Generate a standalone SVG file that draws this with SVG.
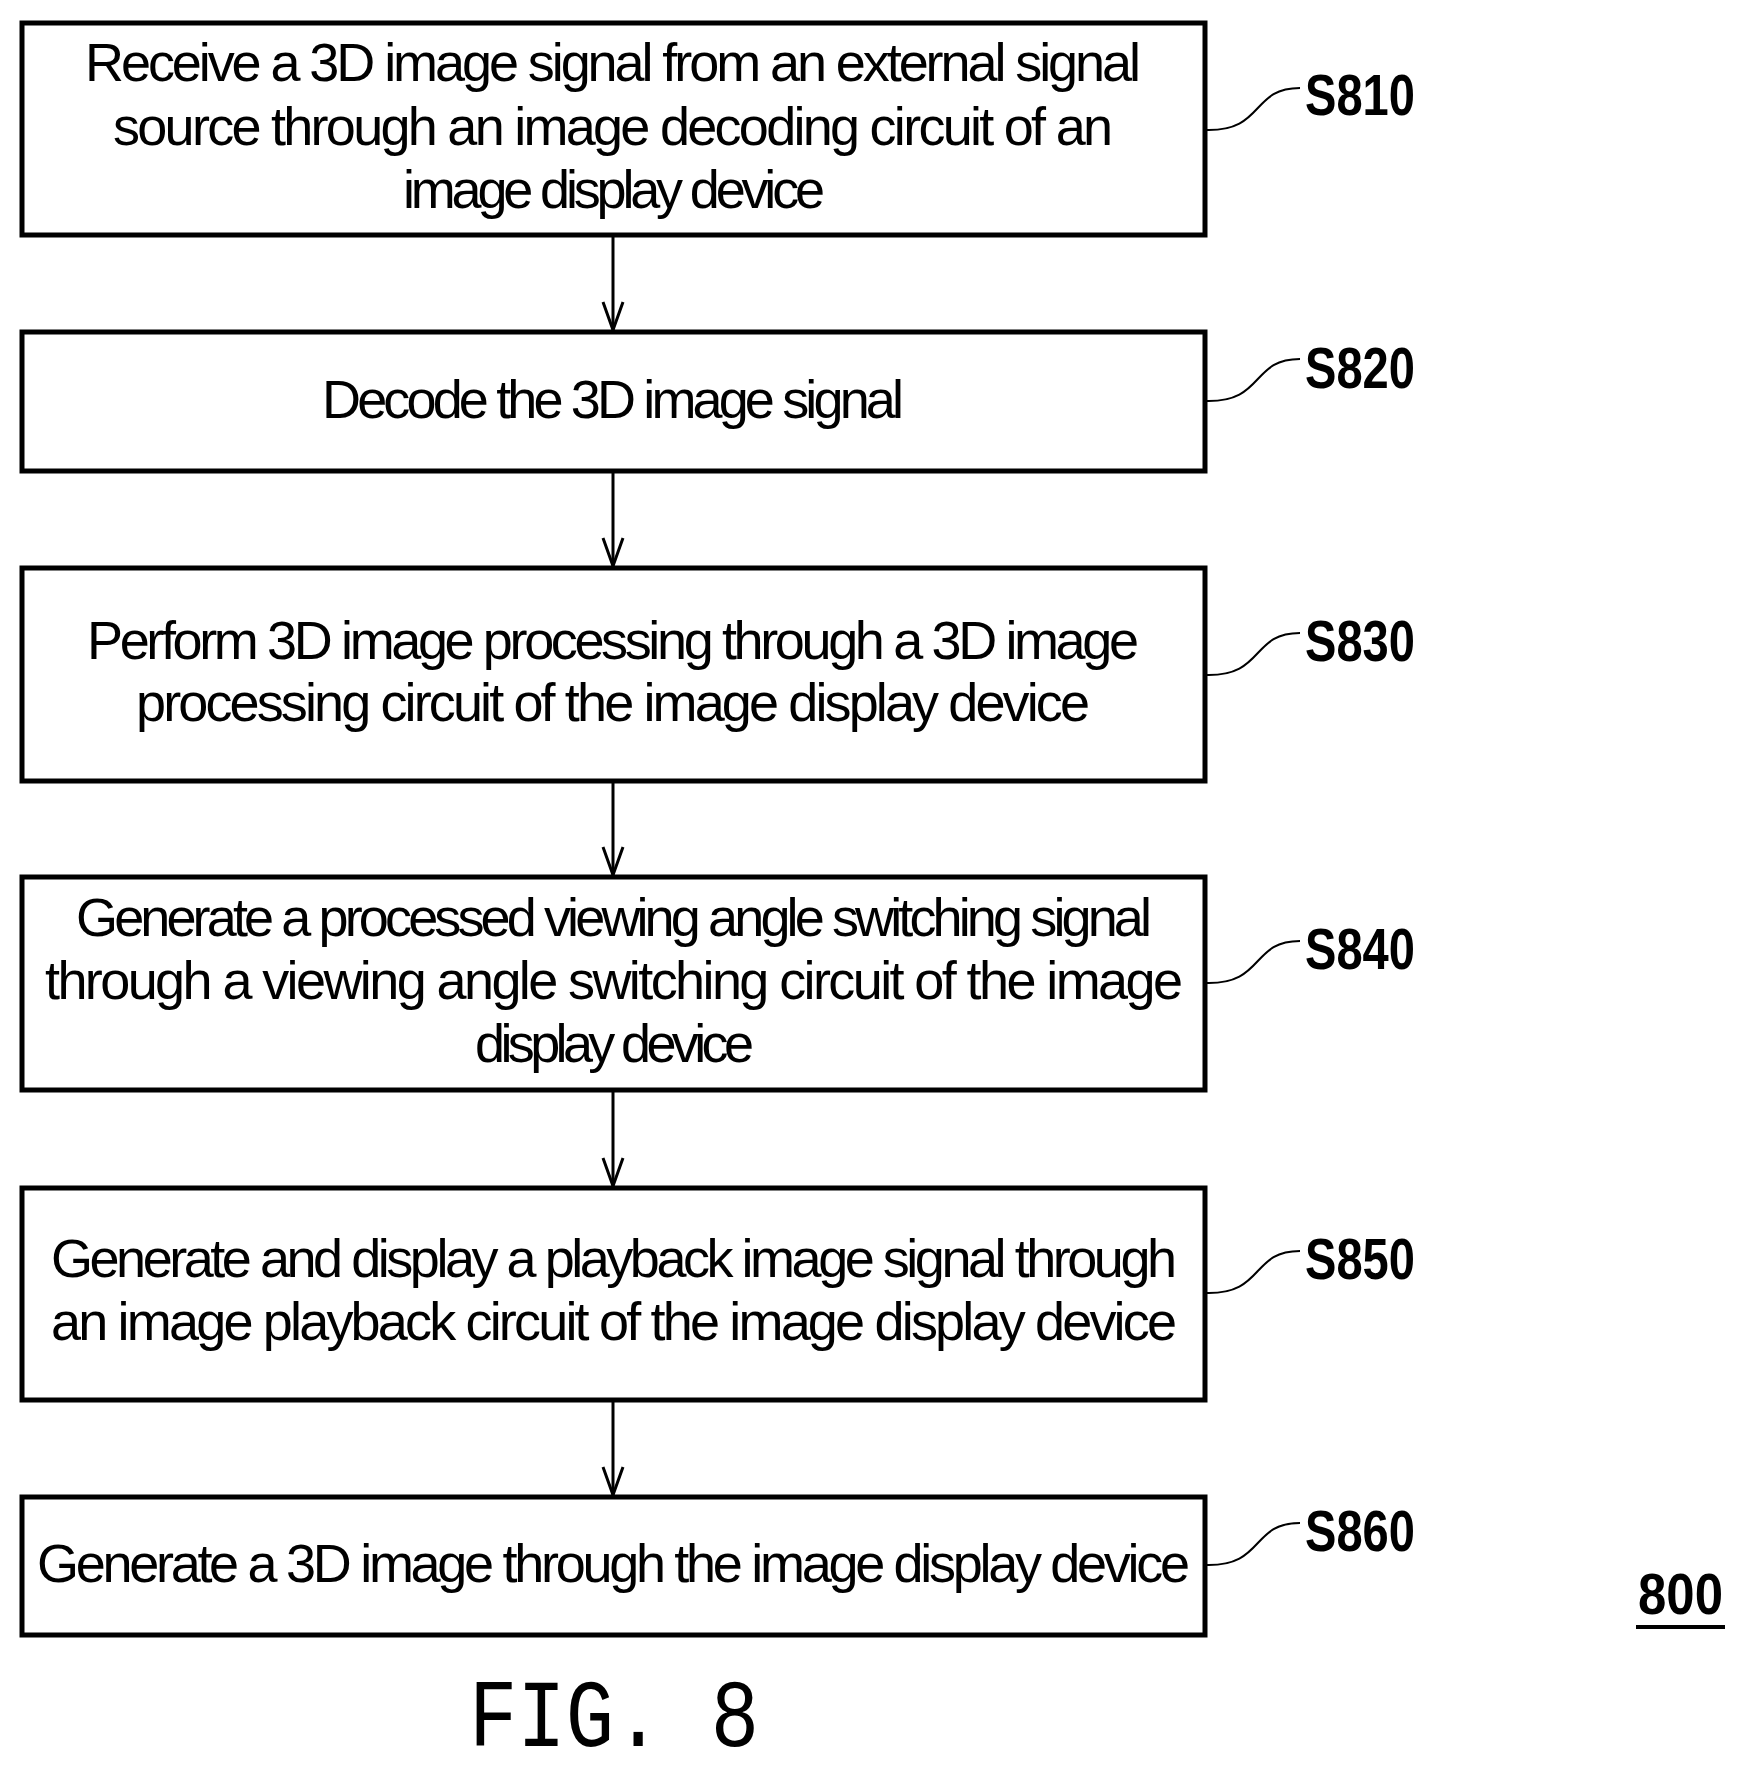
<svg xmlns="http://www.w3.org/2000/svg" width="1747" height="1773" viewBox="0 0 1747 1773">
<style>
.box{fill:#fff;stroke:#000;stroke-width:5}
.t{font-family:"Liberation Sans",Arial,sans-serif;font-size:54px;fill:#000}
.lab{font-family:"Liberation Sans",Arial,sans-serif;font-size:58px;font-weight:bold;fill:#000}
.c{fill:none;stroke:#000;stroke-width:3}
.ld{fill:none;stroke:#000;stroke-width:2}
</style>
<defs><marker id="a" markerWidth="30" markerHeight="24" refX="29" refY="12" orient="auto" markerUnits="userSpaceOnUse" viewBox="0 0 30 24"><path d="M1,2 L29,12 L1,22" fill="none" stroke="#000" stroke-width="3"/></marker></defs>
<g id="connectors">
<line class="c" x1="613" y1="235" x2="613" y2="330" marker-end="url(#a)"/>
<line class="c" x1="613" y1="471" x2="613" y2="566" marker-end="url(#a)"/>
<line class="c" x1="613" y1="781" x2="613" y2="875" marker-end="url(#a)"/>
<line class="c" x1="613" y1="1090" x2="613" y2="1186" marker-end="url(#a)"/>
<line class="c" x1="613" y1="1400" x2="613" y2="1495" marker-end="url(#a)"/>
<path class="ld" d="M1205,130 C1265,132 1250,88 1300,88"/>
<path class="ld" d="M1205,401 C1265,403 1250,359 1300,359"/>
<path class="ld" d="M1205,675 C1265,677 1250,633 1300,633"/>
<path class="ld" d="M1205,983 C1265,985 1250,941 1300,941"/>
<path class="ld" d="M1205,1293 C1265,1295 1250,1251 1300,1251"/>
<path class="ld" d="M1205,1565 C1265,1567 1250,1523 1300,1523"/>
</g>
<g id="S810"><rect class="box" x="22" y="23" width="1183" height="212"/>
<text class="t" x="85" y="81" textLength="1056" lengthAdjust="spacing">Receive a 3D image signal from an external signal</text>
<text class="t" x="113" y="145" textLength="1000" lengthAdjust="spacing">source through an image decoding circuit of an</text>
<text class="t" x="403" y="208" textLength="422" lengthAdjust="spacing">image display device</text>
<text class="lab" x="1305" y="115" textLength="110" lengthAdjust="spacingAndGlyphs">S810</text></g>
<g id="S820"><rect class="box" x="22" y="332" width="1183" height="139"/>
<text class="t" x="322" y="418" textLength="582" lengthAdjust="spacing">Decode the 3D image signal</text>
<text class="lab" x="1305" y="388" textLength="110" lengthAdjust="spacingAndGlyphs">S820</text></g>
<g id="S830"><rect class="box" x="22" y="568" width="1183" height="213"/>
<text class="t" x="87" y="659" textLength="1052" lengthAdjust="spacing">Perform 3D image processing through a 3D image</text>
<text class="t" x="136" y="721" textLength="954" lengthAdjust="spacing">processing circuit of the image display device</text>
<text class="lab" x="1305" y="661" textLength="110" lengthAdjust="spacingAndGlyphs">S830</text></g>
<g id="S840"><rect class="box" x="22" y="877" width="1183" height="213"/>
<text class="t" x="76" y="936" textLength="1076" lengthAdjust="spacing">Generate a processed viewing angle switching signal</text>
<text class="t" x="45" y="999" textLength="1138" lengthAdjust="spacing">through a viewing angle switching circuit of the image</text>
<text class="t" x="475" y="1062" textLength="279" lengthAdjust="spacing">display device</text>
<text class="lab" x="1305" y="969" textLength="110" lengthAdjust="spacingAndGlyphs">S840</text></g>
<g id="S850"><rect class="box" x="22" y="1188" width="1183" height="212"/>
<text class="t" x="51" y="1277" textLength="1126" lengthAdjust="spacing">Generate and display a playback image signal through</text>
<text class="t" x="51" y="1340" textLength="1126" lengthAdjust="spacing">an image playback circuit of the image display device</text>
<text class="lab" x="1305" y="1279" textLength="110" lengthAdjust="spacingAndGlyphs">S850</text></g>
<g id="S860"><rect class="box" x="22" y="1497" width="1183" height="138"/>
<text class="t" x="37" y="1582" textLength="1153" lengthAdjust="spacing">Generate a 3D image through the image display device</text>
<text class="lab" x="1305" y="1551" textLength="110" lengthAdjust="spacingAndGlyphs">S860</text></g>
<text x="469" y="1746" font-family="Liberation Mono,monospace" font-size="96" textLength="290" lengthAdjust="spacingAndGlyphs">FIG. 8</text>
<text class="lab" x="1638" y="1614" textLength="85" lengthAdjust="spacingAndGlyphs">800</text>
<line x1="1636" y1="1627" x2="1725" y2="1627" stroke="#000" stroke-width="4"/>
</svg>
